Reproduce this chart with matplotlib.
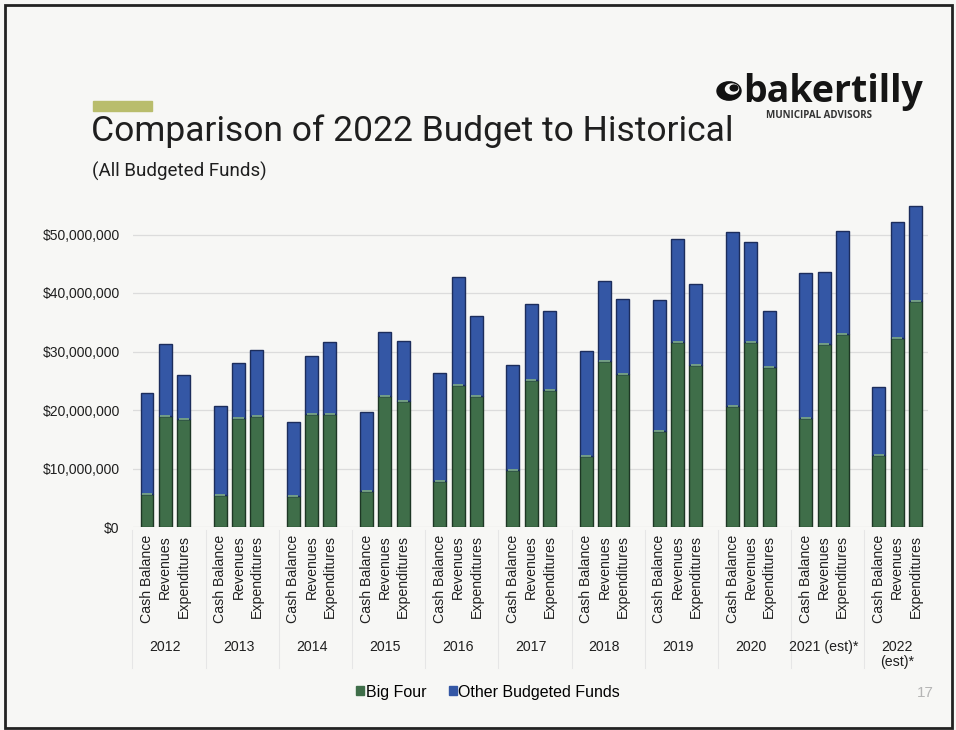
import matplotlib.pyplot as plt
import matplotlib.patches as mpatches
import matplotlib.transforms as mtransforms
from matplotlib.ticker import FuncFormatter
import numpy as np

years = ["2012", "2013", "2014", "2015", "2016", "2017", "2018", "2019",
         "2020", "2021 (est)*", "2022\n(est)*"]
measures = ["Cash Balance", "Revenues", "Expenditures"]

# millions of dollars, one row per year: cash balance, revenues, expenditures
big_four = [
    [5.6, 18.9, 18.5],
    [5.4, 18.6, 18.9],
    [5.3, 19.3, 19.4],
    [6.2, 22.4, 21.6],
    [7.9, 24.3, 22.4],
    [9.7, 25.1, 23.4],
    [12.2, 28.4, 26.1],
    [16.4, 31.7, 27.7],
    [20.6, 31.7, 27.4],
    [18.6, 31.3, 33.0],
    [12.3, 32.3, 38.7],
]
totals = [
    [22.9, 31.2, 25.9],
    [20.6, 28.1, 30.3],
    [18.0, 29.2, 31.7],
    [19.6, 33.4, 31.8],
    [26.3, 42.8, 36.1],
    [27.7, 38.2, 36.9],
    [30.1, 42.1, 39.0],
    [38.8, 49.2, 41.5],
    [50.4, 48.7, 37.0],
    [43.5, 43.6, 50.6],
    [24.0, 52.2, 54.8],
]

big = np.array(big_four) * 1e6
other = np.array(totals) * 1e6 - big

green = "#3f6e49"
blue = "#3457a5"
text_col = "#1f1f1f"

fig = plt.figure(figsize=(9.56, 7.3), dpi=100)
fig.patch.set_facecolor("#f7f7f5")

# slide frame
fig.add_artist(mpatches.Rectangle((5 / 956, 2 / 730), 947 / 956, 723 / 730,
                                  transform=fig.transFigure, fill=False,
                                  edgecolor="#222222", linewidth=2))

ax = fig.add_axes([133 / 956, 203 / 730, 795 / 956, 327.6 / 730])
ax.set_facecolor("none")

# four slots per year, the fourth left empty as a gap
x = np.array([[4 * g + k for k in range(3)] for g in range(len(years))], dtype=float)
w = 0.71
ax.bar(x.ravel(), big.ravel(), w, color=green, edgecolor="#1d3624",
       linewidth=1.0, label="Big Four", zorder=3)
ax.bar(x.ravel(), other.ravel(), w, bottom=big.ravel(), color=blue,
       edgecolor="#1c2d5c", linewidth=1.0, label="Other Budgeted Funds", zorder=3)
# thin light seam where the two segments meet
ax.hlines(big.ravel(), x.ravel() - w / 2 + 0.08, x.ravel() + w / 2 - 0.08,
          color="#7fae86", linewidth=1.2, zorder=4)

ax.set_xlim(-0.765, 42.68)
ax.set_ylim(0, 56e6)
ax.set_yticks(np.arange(0, 50e6 + 1, 10e6))
ax.yaxis.set_major_formatter(FuncFormatter(lambda v, p: f"${v:,.0f}"))
ax.tick_params(axis="y", length=0, pad=9.5, labelsize=10, labelcolor=text_col)
for lab in ax.get_yticklabels():
    lab.set_family("Liberation Sans")
ax.set_xticks([])
ax.grid(axis="y", color="#dcdcdc", linewidth=0.9, zorder=0)
for s in ax.spines.values():
    s.set_visible(False)

# two-level category labels below the axis
trans = mtransforms.blended_transform_factory(ax.transData, fig.transFigure)
for g, yr in enumerate(years):
    for k, m in enumerate(measures):
        ax.text(x[g, k], 1 - 535 / 730, m, rotation=90, ha="center", va="top",
                fontsize=10.2, family="Liberation Sans", color=text_col,
                transform=trans)
    ax.text(x[g, 1], 1 - 640 / 730, yr, ha="center", va="top", fontsize=10.2,
            family="Liberation Sans", color=text_col, transform=trans,
            linespacing=1.1)
    # faint group separators
    xs = x[g, 0] - 0.8
    ax.plot([xs, xs], [1 - 530 / 730, 1 - 668 / 730], color="#e6e6e6",
            linewidth=0.8, transform=trans, clip_on=False)

handles = [mpatches.Patch(color=green, label="Big Four"),
           mpatches.Patch(color=blue, label="Other Budgeted Funds")]
fig.legend(handles=handles, loc="center", bbox_to_anchor=(488 / 956, 1 - 692 / 730),
           ncol=2, frameon=False, handlelength=0.5, handleheight=0.5,
           handletextpad=0.12, columnspacing=1.4,
           prop={"family": "Liberation Sans", "size": 11.5})

# heading
fig.add_artist(mpatches.Rectangle((93 / 956, 1 - 111 / 730), 59 / 956, 10 / 730,
                                  transform=fig.transFigure, color="#b9bd6c"))
fig.text(91 / 956, 1 - 131 / 730, "Comparison of 2022 Budget to Historical",
         fontsize=25.5, family="Roboto", color=text_col, va="center", ha="left")
fig.text(92 / 956, 1 - 171 / 730, "(All Budgeted Funds)", fontsize=13.5,
         family="Roboto", color=text_col, va="center", ha="left")

# logo
fig.add_artist(mpatches.Circle((729 / 956, 1 - 91 / 730), 12 / 956,
                               transform=fig.transFigure, color="#111111"))
fig.add_artist(mpatches.Circle((732 / 956, 1 - 89 / 730), 6.5 / 956,
                               transform=fig.transFigure, color="#f7f7f5"))
fig.add_artist(mpatches.Circle((734 / 956, 1 - 88 / 730), 3.8 / 956,
                               transform=fig.transFigure, color="#111111"))
fig.text(743 / 956, 1 - 92 / 730, "bakertilly", fontsize=27, weight="bold",
         family="Open Sans", color="#151515", va="center", ha="left")
fig.text(766 / 956, 1 - 115 / 730, "MUNICIPAL ADVISORS", fontsize=7,
         weight="bold", family="Open Sans", color="#333333", va="center", ha="left")

fig.text(925 / 956, 1 - 693 / 730, "17", fontsize=11, family="Liberation Sans",
         color="#b5b5b5", va="center", ha="center")

plt.savefig("out.png", dpi=100, facecolor=fig.get_facecolor())
